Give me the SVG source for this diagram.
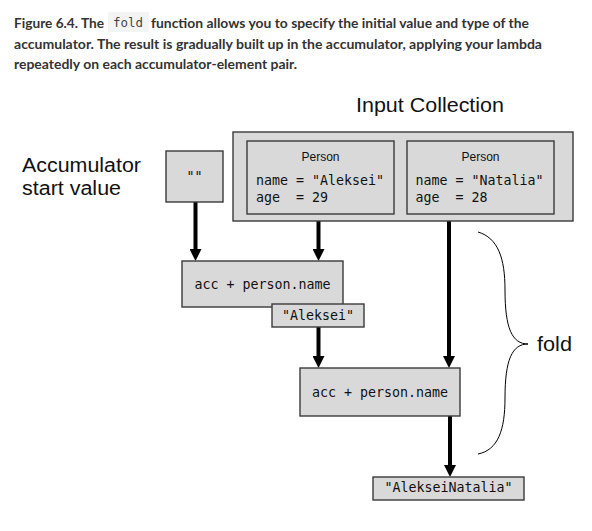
<svg xmlns="http://www.w3.org/2000/svg" width="592" height="531" viewBox="0 0 592 531">
<style>
.cap{font-family:Lato,"Noto Sans",sans-serif;font-weight:700;font-size:13.5px;fill:#333}
.code{font-family:"DejaVu Sans Mono","Liberation Mono",monospace;font-size:12.4px;fill:#444}
.lbl{font-family:"Liberation Sans",Arial,sans-serif;font-size:20px;fill:#111}
.box{fill:#d9d9d9;stroke:#3a3a3a;stroke-width:1.4}
.mono{font-family:"DejaVu Sans Mono","Liberation Mono",monospace;font-size:13.3px;fill:#111;white-space:pre}
.sm{font-family:"Liberation Sans",Arial,sans-serif;font-size:12px;fill:#111}
.arr{stroke:#000;stroke-width:4;fill:none}
</style>
<defs>
<marker id="ah" viewBox="0 0 12 12" refX="2" refY="6" markerWidth="12" markerHeight="12" markerUnits="userSpaceOnUse" orient="auto">
<path d="M0,0 L12,6 L0,12 z" fill="#000"/>
</marker>
</defs>
<rect width="592" height="531" fill="#fff"/>
<g id="caption">
<text class="cap" x="14" y="28" textLength="90" lengthAdjust="spacingAndGlyphs">Figure 6.4. The</text>
<rect x="108" y="12" width="41" height="20" fill="#f4f4f4"/>
<text class="code" x="113" y="27" textLength="30" lengthAdjust="spacingAndGlyphs">fold</text>
<text class="cap" x="151" y="28" textLength="378" lengthAdjust="spacingAndGlyphs">function allows you to specify the initial value and type of the</text>
<text class="cap" x="14" y="48.5" textLength="528" lengthAdjust="spacingAndGlyphs">accumulator. The result is gradually built up in the accumulator, applying your lambda</text>
<text class="cap" x="14" y="68.5" textLength="283" lengthAdjust="spacingAndGlyphs">repeatedly on each accumulator-element pair.</text>
</g>
<g id="labels">
<text class="lbl" x="356" y="112" textLength="148" lengthAdjust="spacingAndGlyphs">Input Collection</text>
<text class="lbl" x="22" y="172" textLength="119" lengthAdjust="spacingAndGlyphs">Accumulator</text>
<text class="lbl" x="22" y="195" textLength="99" lengthAdjust="spacingAndGlyphs">start value</text>
<text class="lbl" x="537" y="351" textLength="35" lengthAdjust="spacingAndGlyphs">fold</text>
</g>
<g id="connectors">
<line class="arr" x1="195.5" y1="202" x2="195.5" y2="251" marker-end="url(#ah)"/>
<line class="arr" x1="318.5" y1="221" x2="318.5" y2="251" marker-end="url(#ah)"/>
<line class="arr" x1="449" y1="221" x2="449" y2="358" marker-end="url(#ah)"/>
<line class="arr" x1="318.5" y1="327" x2="318.5" y2="358" marker-end="url(#ah)"/>
<line class="arr" x1="450" y1="416" x2="450" y2="467" marker-end="url(#ah)"/>
<path d="M478,232 C498,238 505,258 505,290 C505,328 512,344 528,344 C512,344 505,360 505,398 C505,430 498,450 478,454" fill="none" stroke="#000" stroke-width="1"/>
</g>
<g id="collection">
<rect class="box" x="233" y="132" width="340" height="89"/>
</g>
<g id="person1">
<rect class="box" x="247" y="141" width="147" height="73"/>
<text class="sm" x="320.5" y="161" text-anchor="middle">Person</text>
<text class="mono" x="256" y="184.5">name = "Aleksei"</text>
<text class="mono" x="256" y="201.5">age  = 29</text>
</g>
<g id="person2">
<rect class="box" x="407" y="141" width="147" height="73"/>
<text class="sm" x="480.5" y="161" text-anchor="middle">Person</text>
<text class="mono" x="415.5" y="184.5">name = "Natalia"</text>
<text class="mono" x="415.5" y="201.5">age  = 28</text>
</g>
<g id="start">
<rect class="box" x="166" y="151" width="57" height="51"/>
<text class="mono" x="194.5" y="181" text-anchor="middle">""</text>
</g>
<g id="acc1">
<rect class="box" x="182" y="261" width="161" height="46"/>
<text class="mono" x="262.5" y="288.5" text-anchor="middle">acc + person.name</text>
</g>
<g id="res1">
<rect class="box" x="272" y="304" width="92" height="23"/>
<text class="mono" x="318" y="320" text-anchor="middle">"Aleksei"</text>
</g>
<g id="acc2">
<rect class="box" x="300" y="368" width="160" height="48"/>
<text class="mono" x="380" y="397" text-anchor="middle">acc + person.name</text>
</g>
<g id="result">
<rect class="box" x="373" y="477" width="151" height="23"/>
<text class="mono" x="448.5" y="492" text-anchor="middle">"AlekseiNatalia"</text>
</g>
</svg>
